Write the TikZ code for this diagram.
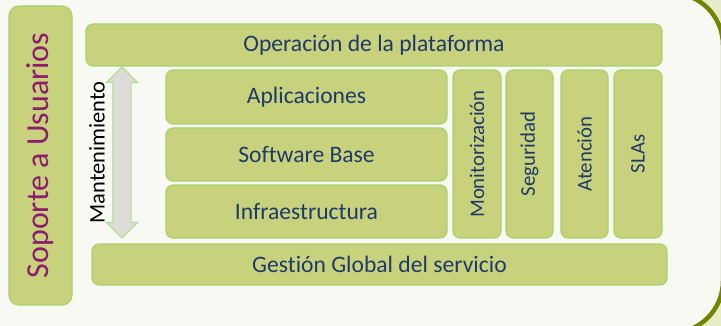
\documentclass[tikz,border=0pt]{standalone}
\usepackage{fontspec}
\setmainfont{Carlito}[Ligatures=NoCommon]
\usetikzlibrary{shapes.arrows, positioning}

\definecolor{cajafill}{HTML}{C8D17C}
\definecolor{cajaline}{HTML}{A6D46C}
\definecolor{azul}{HTML}{1F3A6A}
\definecolor{morado}{HTML}{8E1C6E}
\definecolor{oliva}{HTML}{728300}
\definecolor{fuera}{HTML}{E6EBC8}
\definecolor{fondo}{HTML}{F8F9F3}
\definecolor{gris}{HTML}{DCDDD8}
\definecolor{grisline}{HTML}{B5DB94}

\begin{document}
\begin{tikzpicture}[x=1pt, y=-1pt,
caja/.style={draw=cajaline, fill=cajafill, line width=1.2pt, rounded corners=7pt, inner sep=0pt,
  text=azul, font=\fontsize{23.6}{28}\selectfont},
vcaja/.style={caja, rotate=90, minimum width=168pt, font=\fontsize{20.8}{24}\selectfont},
flecha/.style={double arrow, draw=grisline, fill=gris, line width=1.2pt, inner xsep=0pt, inner ysep=8.5pt,
  double arrow head extend=6.5pt, minimum height=171pt}]

\useasboundingbox (0,0) rectangle (721,326);
\clip (0,0) rectangle (721,326);
\fill[fuera] (0,0) rectangle (721,326);
\draw[oliva, fill=fondo, line width=4.5pt, rounded corners=52pt] (-100,-7) rectangle (723,333);

\node[caja, rotate=90, minimum width=299pt, minimum height=63pt, rounded corners=10pt, text=morado,
  font=\fontsize{32}{36}\selectfont] (sop) at (40.5,155.5) {Soporte a Usuarios};

\node[caja, minimum width=576pt, minimum height=42pt] (op) at (374,45) {Operación de la plataforma};

\node[caja, minimum width=281pt, minimum height=54pt] (apl) at (306.5,97) {Aplicaciones};
\node[caja, minimum width=281pt, minimum height=53pt, below=2.8pt of apl] (sw) {Software Base};
\node[caja, minimum width=281pt, minimum height=53pt, below=2.8pt of sw] (inf) {Infraestructura};

\node[vcaja, minimum height=48pt] (mon) at (477,154) {Monitorización};
\node[vcaja, minimum height=47pt] (seg) at (529.5,154) {Seguridad};
\node[vcaja, minimum height=47pt] (ate) at (584.5,154) {Atención};
\node[vcaja, minimum height=48pt] (sla) at (638,154) {SLAs};

\node[caja, minimum width=575pt, minimum height=41pt] (gest) at (379.5,264.5) {Gestión Global del servicio};

\node[flecha, rotate=90] (mant) at (122,152.5) {};
\node[rotate=90, font=\fontsize{22.4}{26}\selectfont] (mtxt) at (97,152.5) {Mantenimiento};

\end{tikzpicture}
\end{document}
